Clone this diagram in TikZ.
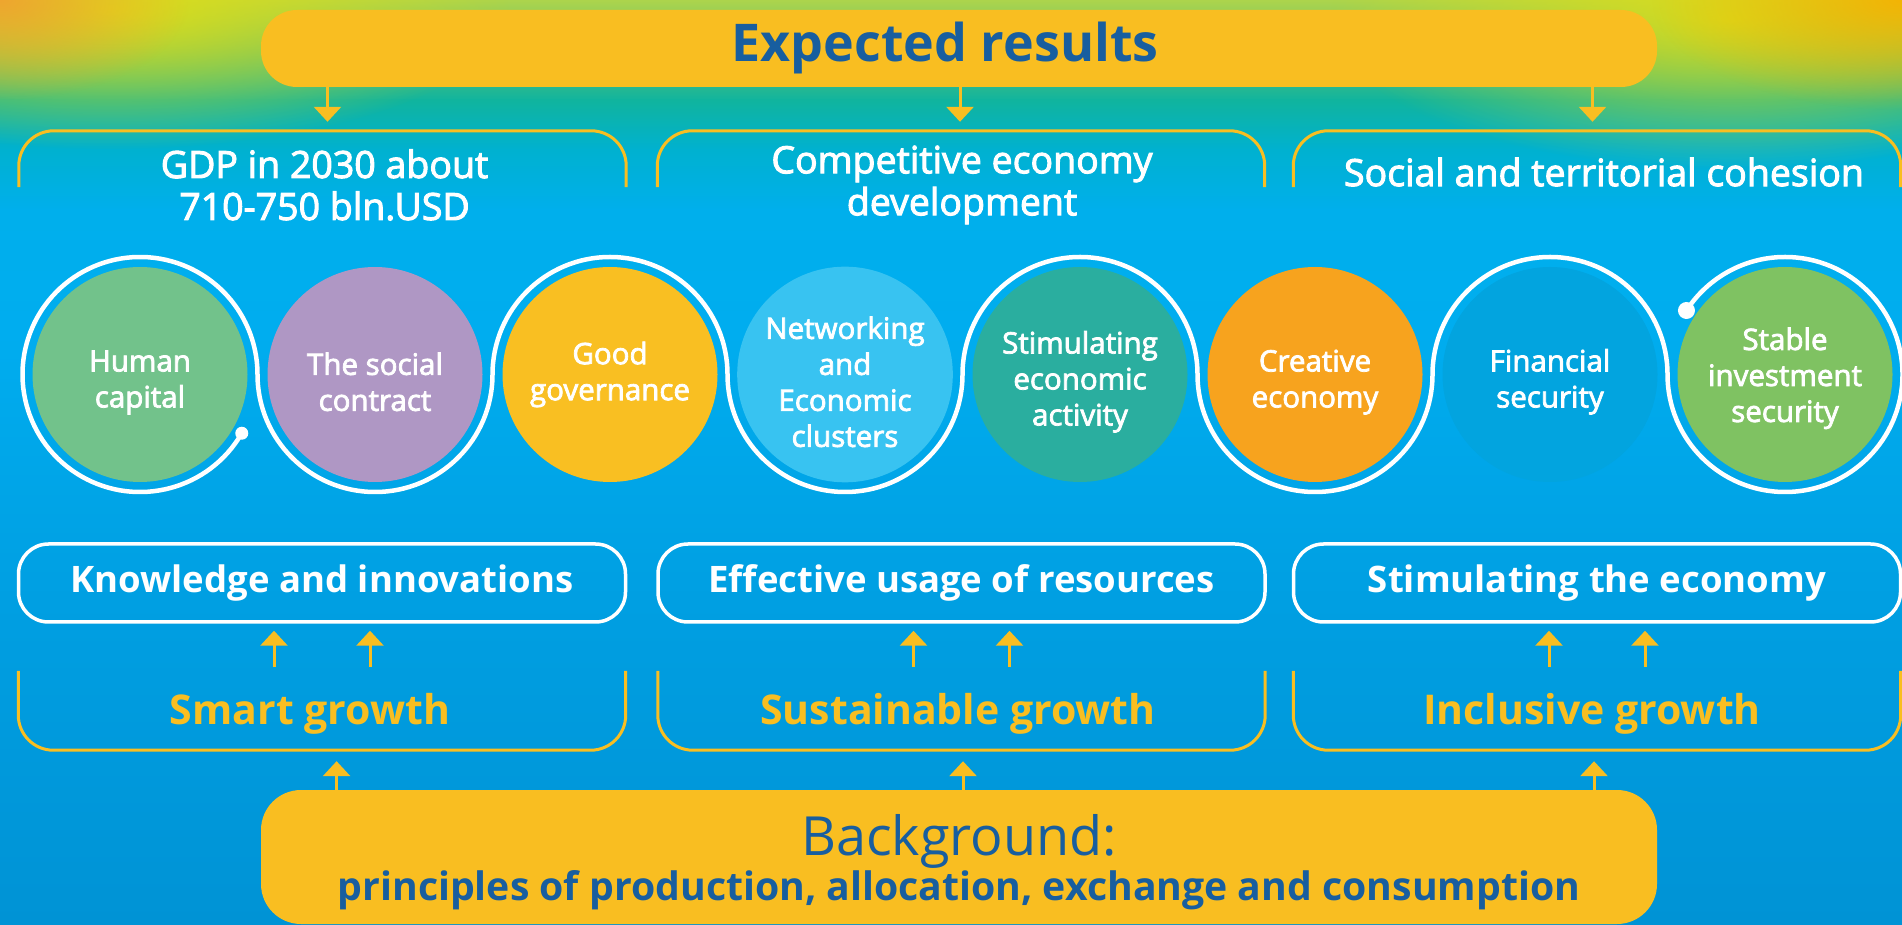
\documentclass[tikz,border=0pt]{standalone}
\usepackage{fontspec}
\setmainfont{Open Sans}
\newfontfamily\semib[FakeBold=2.6]{Open Sans}
\usetikzlibrary{arrows.meta,fadings,calc}
\definecolor{cY}{HTML}{F9BE21}
\definecolor{cDB}{HTML}{185E9F}
\definecolor{cHuman}{HTML}{72C28B}
\definecolor{cSocial}{HTML}{AF97C4}
\definecolor{cGood}{HTML}{F9BF22}
\definecolor{cNet}{HTML}{38C3F1}
\definecolor{cStim}{HTML}{2AAE9F}
\definecolor{cCreat}{HTML}{F7A31E}
\definecolor{cFin}{HTML}{02A4DF}
\definecolor{cStable}{HTML}{7FC262}
\definecolor{g0}{HTML}{ACD44C}
\definecolor{g1}{HTML}{62C270}
\definecolor{g2}{HTML}{10B49E}
\definecolor{g3}{HTML}{00B1D0}
\definecolor{g4}{HTML}{00AFEC}
\definecolor{g5}{HTML}{00ADEF}
\definecolor{g6}{HTML}{009FE2}
\definecolor{g7}{HTML}{0093D5}
\definecolor{blobY}{HTML}{E4DE12}
\definecolor{blobO}{HTML}{F2A030}
\definecolor{blobR}{HTML}{F8B000}
\tikzfading[name=radfade, inner color=transparent!0, outer color=transparent!100]
\newcommand{\dnstrut}{\rule{0pt}{37pt}}
\begin{document}
\begin{tikzpicture}[x=1pt,y=1pt,
  ybr/.style={draw=cY, line width=3, rounded corners=35},
  ring/.style={draw=white, line width=4.5},
  yarr/.style={draw=cY, line width=3, -{Triangle[width=27pt,length=15pt]}},
  circ/.style={circle, minimum size=215, inner sep=0pt, text=white, align=center, font=\semib\fontsize{29.5}{36}\selectfont},
  wbox/.style={draw=white, line width=3.5, rounded corners=30, minimum width=607, minimum height=78, inner sep=0pt, text=white, font=\bfseries\fontsize{36.5}{42}\selectfont},
  holder/.style={minimum width=607, inner sep=0pt},
  ttext/.style={text=white, align=center, font=\semib\fontsize{37.5}{42}\selectfont},
  gtext/.style={text=cY, font=\bfseries\fontsize{41}{46}\selectfont}]
\useasboundingbox (0,0) rectangle (1902,924);
% background
\shade[top color=g0, bottom color=g1] (0,924) rectangle (1902,873.5);
\shade[top color=g1, bottom color=g2] (0,874) rectangle (1902,823.5);
\shade[top color=g2, bottom color=g3] (0,824) rectangle (1902,773.5);
\shade[top color=g3, bottom color=g4] (0,774) rectangle (1902,713.5);
\shade[top color=g4, bottom color=g5] (0,714) rectangle (1902,593.5);
\shade[top color=g5, bottom color=g6] (0,594) rectangle (1902,323.5);
\shade[top color=g6, bottom color=g7] (0,324) rectangle (1902,0);
\fill[blobY, path fading=radfade, fill opacity=0.9] (110,915) ellipse [x radius=400, y radius=140];
\fill[blobO, path fading=radfade, fill opacity=0.9] (0,924) ellipse [x radius=190, y radius=100];
\fill[blobY, path fading=radfade, fill opacity=0.85] (1730,905) ellipse [x radius=400, y radius=150];
\fill[blobR, path fading=radfade, fill opacity=0.9] (1902,924) ellipse [x radius=250, y radius=110];

% top banner
\node[fill=cY, rounded corners=36, minimum width=1396, minimum height=77, inner sep=0pt, text=cDB, font=\bfseries\fontsize{52}{60}\selectfont] (exp) at (959,875.5) {Expected results\hspace*{28pt}};

% top brackets
\node[holder, minimum height=56] (gt1) at (322.5,765) {};
\node[holder, minimum height=56] (gt2) at (961,765) {};
\node[holder, minimum height=56] (gt3) at (1597,765) {};
\foreach \g in {gt1,gt2,gt3}
  \draw[ybr] (\g.south west) -- (\g.north west) -- (\g.north east) -- (\g.south east);
\draw[yarr] ($(exp.south -| gt1.north)+(5,0)$) -- ($(gt1.north)+(5,9)$);
\draw[yarr] ($(exp.south -| gt2.north)+(-1,0)$) -- ($(gt2.north)+(-1,9)$);
\draw[yarr] ($(exp.south -| gt3.north)+(-4.5,0)$) -- ($(gt3.north)+(-4.5,9)$);

\node[ttext] (t1) at (324.5,739) {GDP in 2030 about\\710-750 bln.USD};
\node[ttext] (t2) at (962,739) {Competitive economy\\development};
\node[ttext] (t3) at (1604,752) {Social and territorial cohesion};

% circles
\node[circ, fill=cHuman] (c1) at (140,549.5) {\dnstrut Human\\capital};
\node[circ, fill=cSocial] (c2) at (375,549.5) {\dnstrut The social\\contract};
\node[circ, fill=cGood] (c3) at (610,549.5) {Good\\governance};
\node[circ, fill=cNet] (c4) at (845,549.5) {\dnstrut Networking\\and\\Economic\\clusters};
\node[circ, fill=cStim] (c5) at (1080,549.5) {\dnstrut Stimulating\\economic\\activity};
\node[circ, fill=cCreat] (c6) at (1315,549.5) {\dnstrut Creative\\economy};
\node[circ, fill=cFin] (c7) at (1550,549.5) {\dnstrut Financial\\security};
\node[circ, fill=cStable] (c8) at (1785,549.5) {\rule{0pt}{30pt}Stable\\investment\\security};

% serpentine ring
\coordinate (rs) at ($(c1)+(-30:117.5)$);
\coordinate (re) at ($(c8)+(147:117.5)$);
\draw[ring] (rs) arc[start angle=-30, end angle=-360, radius=117.5]
  arc[start angle=180, end angle=360, radius=117.5]
  arc[start angle=180, end angle=0, radius=117.5]
  arc[start angle=180, end angle=360, radius=117.5]
  arc[start angle=180, end angle=0, radius=117.5]
  arc[start angle=180, end angle=360, radius=117.5]
  arc[start angle=180, end angle=0, radius=117.5]
  arc[start angle=180, end angle=507, radius=117.5];
\fill[white] (rs) circle (6.5);
\fill[white] (re) circle (8.5);

% white boxes
\node[wbox] (kb1) at (322,341) {Knowledge and innovations};
\node[wbox] (kb2) at (961.5,341) {Effective usage of resources};
\node[wbox] (kb3) at (1597,341) {Stimulating the economy};

% lower brackets
\node[holder, minimum height=79] (gl1) at (322,213.5) {};
\node[holder, minimum height=79] (gl2) at (961.5,213.5) {};
\node[holder, minimum height=79] (gl3) at (1597,213.5) {};
\foreach \g in {gl1,gl2,gl3}
  \draw[ybr] (\g.north west) -- (\g.south west) -- (\g.south east) -- (\g.north east);
\node[gtext] (s1) at (310,210.6) {Smart growth};
\node[gtext] (s2) at (958,210.6) {Sustainable growth};
\node[gtext] (s3) at (1592,210.6) {Inclusive growth};

\foreach \g/\k in {gl1/kb1,gl2/kb2,gl3/kb3}{
  \draw[yarr] ($(\g.north)+(-48,4)$) -- ($(\k.south)+(-48,-7)$);
  \draw[yarr] ($(\g.north)+(48,4)$) -- ($(\k.south)+(48,-7)$);
}

% background box
\node[fill=cY, rounded corners=40, minimum width=1396, minimum height=134, inner sep=0pt] (bg) at (959,67) {};
\node[text=cDB, align=center, font=\fontsize{54}{45}\selectfont] (bgt) at (959,62) {Background:\\{\bfseries\fontsize{39.2}{45}\selectfont principles of production, allocation, exchange and consumption}};
\draw[yarr] ($(bg.north -| gl1.south)+(14.6,0)$) -- ($(gl1.south)+(14.6,-11)$);
\draw[yarr] ($(bg.north -| gl2.south)+(1.5,0)$) -- ($(gl2.south)+(1.5,-11)$);
\draw[yarr] ($(bg.north -| gl3.south)+(-3,0)$) -- ($(gl3.south)+(-3,-11)$);
\end{tikzpicture}
\end{document}
